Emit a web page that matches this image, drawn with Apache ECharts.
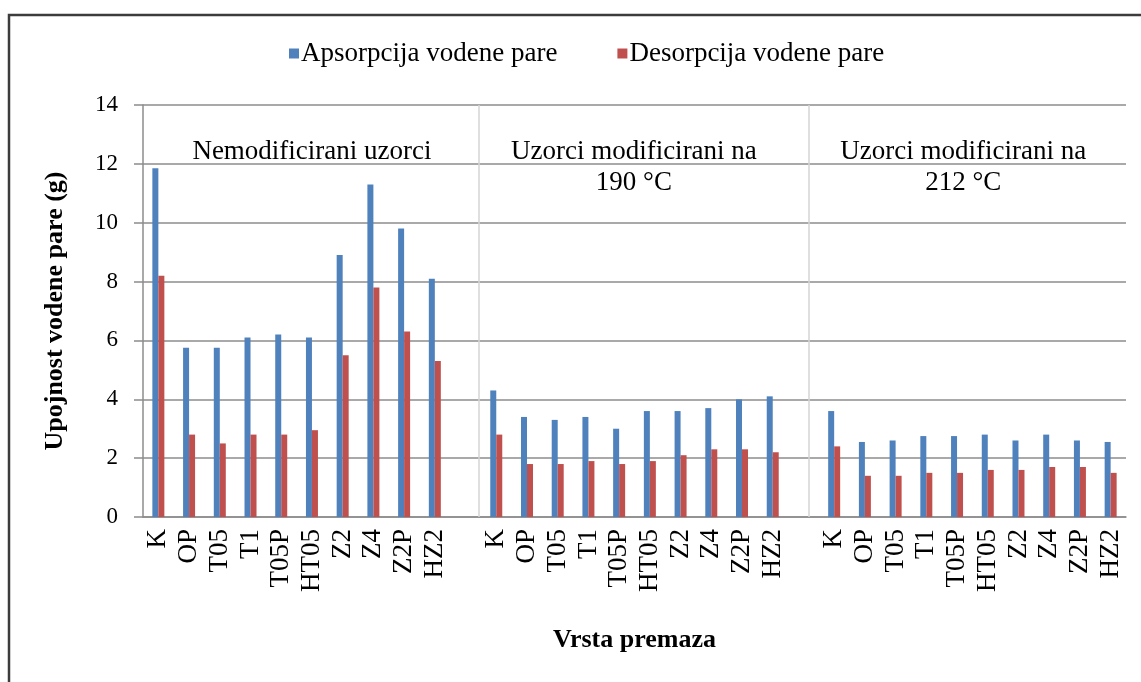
<!DOCTYPE html>
<html>
<head>
<meta charset="utf-8">
<script src="https://cdn.jsdelivr.net/npm/echarts@6/dist/echarts.min.js"></script>
<style>
  html, body { margin: 0; padding: 0; background: #fff; }
  #chart { width: 1141px; height: 682px; }
</style>
</head>
<body>
<div id="chart"></div>
<script>
// Coating types, repeated for each treatment group
const coatings = ['K', 'OP', 'T05', 'T1', 'T05P', 'HT05', 'Z2', 'Z4', 'Z2P', 'HZ2'];

// Water vapour uptake (g): unmodified samples
const absUnmodified = [11.85, 5.75, 5.75, 6.1, 6.2, 6.1, 8.9, 11.3, 9.8, 8.1];
const desUnmodified = [8.2, 2.8, 2.5, 2.8, 2.8, 2.95, 5.5, 7.8, 6.3, 5.3];

// Samples modified at 190 °C
const abs190 = [4.3, 3.4, 3.3, 3.4, 3.0, 3.6, 3.6, 3.7, 4.0, 4.1];
const des190 = [2.8, 1.8, 1.8, 1.9, 1.8, 1.9, 2.1, 2.3, 2.3, 2.2];

// Samples modified at 212 °C
const abs212 = [3.6, 2.55, 2.6, 2.75, 2.75, 2.8, 2.6, 2.8, 2.6, 2.55];
const des212 = [2.4, 1.4, 1.4, 1.5, 1.5, 1.6, 1.6, 1.7, 1.7, 1.5];

const seriesNames = ['Apsorpcija vodene pare', 'Desorpcija vodene pare'];
const groupTitles = ['Nemodificirani uzorci', 'Uzorci modificirani na\n190 °C', 'Uzorci modificirani na\n212 °C'];
const yTicks = [0, 2, 4, 6, 8, 10, 12, 14];

// One empty slot separates the three groups on the category axis
const xCategories = [...coatings, '', ...coatings, '', ...coatings];
const absData = [...absUnmodified, null, ...abs190, null, ...abs212];
const desData = [...desUnmodified, null, ...des190, null, ...des212];

const serif = '"Liberation Serif", "DejaVu Serif", serif';
const slotCount = xCategories.length;

const chart = echarts.init(document.getElementById('chart'), null, { renderer: 'canvas' });

const option = {
  backgroundColor: '#ffffff',
  animation: false,
  textStyle: { fontFamily: serif, color: '#000' },
  legend: {
    top: 35,
    left: 284,
    itemWidth: 10,
    itemHeight: 10,
    itemGap: 60,
    icon: 'rect',
    textStyle: { fontFamily: serif, fontSize: 27, color: '#000', padding: [0, 0, 0, -3] },
    data: seriesNames
  },
  grid: { left: 143, right: 15, top: 105, bottom: 165, containLabel: false },
  xAxis: [
    {
      type: 'category',
      data: xCategories,
      axisLine: { show: true, lineStyle: { color: '#8c8c8c', width: 1.5 } },
      axisTick: { show: false },
      splitLine: { show: false },
      axisLabel: {
        interval: 0,
        rotate: 90,
        margin: 12,
        fontFamily: serif,
        fontSize: 27,
        color: '#000'
      },
      name: 'Vrsta premaza',
      nameLocation: 'middle',
      nameGap: 110,
      nameTextStyle: { fontFamily: serif, fontSize: 26, fontWeight: 'bold', color: '#000', verticalAlign: 'top' }
    },
    {
      // hidden linear axis spanning the category slots, used for separators and group titles
      type: 'value',
      min: 0,
      max: slotCount,
      show: false
    }
  ],
  yAxis: {
    type: 'value',
    min: 0,
    max: 14,
    interval: 2,
    axisLine: { show: true, lineStyle: { color: '#8c8c8c', width: 1.5 } },
    axisTick: { show: true, length: 9, lineStyle: { color: '#8c8c8c', width: 1.5 } },
    splitLine: { show: true, lineStyle: { color: '#8c8c8c', width: 1.5 } },
    axisLabel: {
      margin: 25,
      fontFamily: serif,
      fontSize: 23,
      color: '#000',
      formatter: v => (yTicks.includes(v) ? String(v) : '')
    },
    name: 'Upojnost vodene pare (g)',
    nameLocation: 'middle',
    nameGap: 75,
    nameTextStyle: { fontFamily: serif, fontSize: 26, fontWeight: 'bold', color: '#000' }
  },
  series: [
    {
      name: seriesNames[0],
      type: 'bar',
      data: absData,
      barWidth: 6,
      barGap: '0%',
      itemStyle: { color: '#4f81bd' }
    },
    {
      name: seriesNames[1],
      type: 'bar',
      data: desData,
      barWidth: 6,
      barGap: '0%',
      itemStyle: { color: '#c0504d' }
    },
    {
      // group separators
      type: 'line',
      xAxisIndex: 1,
      data: [],
      silent: true,
      markLine: {
        silent: true,
        symbol: 'none',
        label: { show: false },
        lineStyle: { color: '#d4d4d4', width: 1.5, type: 'solid' },
        data: [{ xAxis: 10.94 }, { xAxis: 21.68 }]
      }
    }
  ]
};

chart.setOption(option);

// Group titles placed through the hidden slot axis
const titleAnchors = [[5.5, 12.4], [15.98, 11.88], [26.7, 11.88]];
const graphics = titleAnchors.map((p, i) => {
  const px = chart.convertToPixel({ xAxisIndex: 1, yAxisIndex: 0 }, p);
  return {
    type: 'text',
    x: px[0],
    y: px[1],
    silent: true,
    style: {
      text: groupTitles[i],
      font: '27px ' + serif,
      fill: '#000',
      align: 'center',
      verticalAlign: 'middle',
      lineHeight: 31
    }
  };
});
// outer chart frame
graphics.push({
  type: 'rect',
  shape: { x: 9, y: 15, width: 1200, height: 720 },
  style: { fill: 'none', stroke: '#3c3c3c', lineWidth: 2.5 },
  silent: true
});
chart.setOption({ graphic: graphics });
</script>
</body>
</html>
